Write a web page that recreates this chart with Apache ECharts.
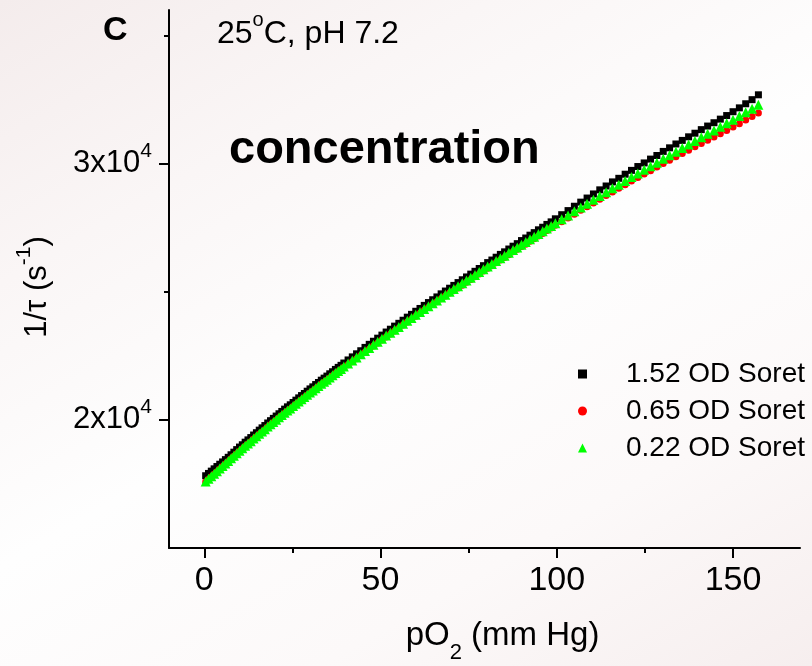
<!DOCTYPE html>
<html>
<head>
<meta charset="utf-8">
<script src="https://cdn.jsdelivr.net/npm/echarts@6/dist/echarts.min.js"></script>
<style>
html,body{margin:0;padding:0;}
body{width:812px;height:666px;overflow:hidden;background:linear-gradient(150deg,#f4ecec 0%,#faf6f6 25%,#fefefe 50%,#fcf9f9 75%,#f6eeee 100%);}
#chart{width:812px;height:666px;}
</style>
</head>
<body>
<div id="chart"></div>
<script>
// pO2 (mm Hg) – sampling is denser at low oxygen pressure
const pO2 = [0.4,1.2,2.0,2.8,3.6,4.4,5.2,6.0,6.8,7.6,8.4,9.2,10.0,10.8,11.6,12.4,13.2,14.0,14.8,15.6,
  16.4,17.2,18.0,18.8,19.6,20.4,21.2,22.0,22.8,23.6,24.4,25.2,26.0,26.8,27.6,28.4,29.2,30.0,30.8,31.6,
  32.4,33.2,34.0,34.8,35.6,36.4,37.2,38.0,38.8,39.6,
  40.8,42.0,43.2,44.4,45.6,46.8,48.0,49.2,50.4,51.6,52.8,54.0,55.2,56.4,57.6,58.8,60.0,61.2,62.4,63.6,
  64.8,66.0,67.2,68.4,69.6,70.8,72.0,73.2,74.4,75.6,76.8,78.0,79.2,80.4,81.6,82.8,84.0,85.2,86.4,87.6,
  88.8,90.0,91.2,92.4,93.6,94.8,96.0,97.2,98.4,99.6,
  101.4,103.2,105.0,106.8,108.6,110.4,112.2,114.0,115.8,117.6,119.4,121.2,123.0,124.8,126.6,128.4,
  130.2,132.0,133.8,135.6,137.4,139.2,141.0,142.8,144.6,146.4,148.2,150.0,151.8,153.6,155.4,157.2];
// 1/tau (s^-1), 1.52 OD Soret
const od152 = [17820,17910,18000,18090,18180,18270,18360,18450,18540,18640,18740,18840,18940,19030,19130,19220,19310,19410,19500,19600,
  19690,19780,19880,19970,20060,20150,20240,20330,20420,20510,20590,20680,20770,20860,20950,21030,21120,21210,21290,21380,
  21460,21550,21630,21710,21800,21880,21970,22050,22130,22220,
  22340,22460,22580,22700,22830,22950,23070,23190,23310,23430,23540,23660,23770,23890,24010,24120,24240,24350,24470,24580,
  24690,24800,24920,25030,25140,25250,25360,25470,25580,25690,25800,25910,26020,26140,26240,26350,26460,26560,26670,26780,
  26880,27000,27100,27210,27310,27420,27520,27630,27730,27850,
  28010,28170,28340,28500,28660,28820,28980,29130,29290,29430,29590,29740,29890,30030,30180,30320,
  30480,30620,30770,30910,31050,31190,31330,31470,31600,31740,31880,32030,32180,32340,32500,32690];
// 0.65 OD Soret
const od065 = [17580,17680,17780,17880,17980,18080,18180,18280,18380,18480,18580,18680,18780,18870,18970,19060,19150,19250,19340,19440,
  19530,19620,19720,19810,19900,19990,20080,20170,20260,20350,20430,20520,20610,20700,20790,20870,20960,21050,21130,21220,
  21300,21390,21470,21550,21640,21720,21810,21890,21970,22060,
  22150,22270,22390,22510,22640,22760,22880,23000,23120,23240,23350,23470,23580,23700,23820,23930,24050,24160,24280,24390,
  24500,24610,24730,24840,24950,25040,25150,25260,25370,25480,25590,25700,25810,25920,26020,26130,26240,26340,26450,26560,
  26660,26770,26860,26970,27070,27180,27280,27390,27490,27600,
  27730,27880,28030,28180,28320,28470,28610,28760,28900,29040,29180,29330,29460,29600,29730,29870,
  30010,30140,30270,30400,30530,30660,30790,30920,31040,31170,31300,31430,31560,31710,31840,31980];
// 0.22 OD Soret
const od022 = [17600,17700,17800,17900,18000,18100,18200,18300,18400,18500,18600,18700,18800,18890,18990,19080,19170,19270,19360,19460,
  19550,19640,19740,19830,19920,20010,20100,20190,20280,20370,20450,20540,20630,20720,20810,20890,20980,21070,21150,21240,
  21320,21410,21490,21570,21660,21740,21830,21910,21990,22080,
  22200,22320,22440,22560,22690,22810,22930,23050,23170,23290,23400,23520,23630,23750,23870,23980,24100,24210,24330,24440,
  24550,24660,24780,24890,25000,25110,25220,25330,25440,25550,25660,25770,25880,25990,26090,26200,26310,26410,26520,26630,
  26730,26840,26940,27050,27150,27260,27360,27470,27570,27680,
  27830,27980,28140,28290,28440,28590,28740,28890,29040,29180,29330,29480,29620,29760,29900,30040,
  30190,30330,30470,30610,30750,30890,31030,31170,31300,31440,31580,31720,31860,32010,32150,32300];

const seriesNames = ['1.52 OD Soret', '0.65 OD Soret', '0.22 OD Soret'];
const xMajorTicks = [0, 50, 100, 150];
const xMinorTicks = [25, 75, 125];
const yMajorTicks = [20000, 30000];
const yMinorTicks = [25000, 35000];

const FONT = '"Liberation Sans", Arial, Helvetica, sans-serif';
const chart = echarts.init(document.getElementById('chart'), null, {renderer: 'canvas'});

const toPts = ys => pO2.map((x, i) => [x, ys[i]]);
const lineCol = {color: '#000', width: 2};

const option = {
  backgroundColor: 'transparent',
  animation: false,
  textStyle: {fontFamily: FONT, color: '#000'},
  grid: {left: 169, right: 12, top: 10, bottom: 118, containLabel: false, outerBoundsMode: 'none'},
  xAxis: [
    {
      type: 'value', min: -10, max: 169, position: 'bottom',
      axisLine: {show: true, onZero: false, lineStyle: lineCol},
      axisTick: {show: true, customValues: xMajorTicks, length: 10, lineStyle: lineCol},
      axisLabel: {show: true, customValues: xMajorTicks, fontSize: 34, color: '#000', margin: 16, fontFamily: FONT},
      splitLine: {show: false},
      name: '{a|pO}{s|2}{a| (mm Hg)}', nameLocation: 'middle', nameGap: 60,
      nameTextStyle: {
        color: '#000', fontFamily: FONT, padding: [0, 0, 0, 36],
        rich: {
          a: {fontSize: 33, lineHeight: 56, fontFamily: FONT, color: '#000'},
          s: {fontSize: 22, lineHeight: 22, verticalAlign: 'bottom', fontFamily: FONT, color: '#000'}
        }
      }
    },
    {
      type: 'value', min: -10, max: 169, position: 'bottom',
      axisLine: {show: false, onZero: false},
      axisTick: {show: true, customValues: xMinorTicks, length: 5, lineStyle: lineCol},
      axisLabel: {show: false},
      splitLine: {show: false}
    }
  ],
  yAxis: [
    {
      type: 'value', min: 15000, max: 36000, position: 'left',
      axisLine: {show: true, onZero: false, lineStyle: lineCol},
      axisTick: {show: true, customValues: yMajorTicks, length: 10, lineStyle: lineCol},
      axisLabel: {
        show: true, customValues: yMajorTicks, margin: 17,
        formatter: v => '{a|' + (v / 10000) + 'x10}{b|4}',
        rich: {
          a: {fontSize: 31, lineHeight: 46, fontFamily: FONT, color: '#000'},
          b: {fontSize: 21, lineHeight: 21, verticalAlign: 'top', fontFamily: FONT, color: '#000'}
        }
      },
      splitLine: {show: false},
      name: '{a|1/τ (s}{b|-1}{a|)}', nameLocation: 'middle', nameGap: 109, nameRotate: 90,
      nameTextStyle: {
        color: '#000', fontFamily: FONT, padding: [0, 16, 0, 0],
        rich: {
          a: {fontSize: 31, lineHeight: 46, fontFamily: FONT, color: '#000'},
          b: {fontSize: 21, lineHeight: 21, verticalAlign: 'top', fontFamily: FONT, color: '#000'}
        }
      }
    },
    {
      type: 'value', min: 15000, max: 36000, position: 'left',
      axisLine: {show: false, onZero: false},
      axisTick: {show: true, customValues: yMinorTicks, length: 5, lineStyle: lineCol},
      axisLabel: {show: false},
      splitLine: {show: false}
    }
  ],
  legend: {
    orient: 'vertical', left: 573, top: 355, itemWidth: 9, itemHeight: 9, itemGap: 9,
    itemStyle: {opacity: 1},
    textStyle: {fontSize: 28, lineHeight: 28, color: '#000', fontFamily: FONT, padding: [0, 0, 0, 34]},
    data: [
      {name: seriesNames[0], icon: 'rect'},
      {name: seriesNames[1], icon: 'circle'},
      {name: seriesNames[2], icon: 'triangle'}
    ]
  },
  series: [
    {type: 'scatter', name: seriesNames[0], data: toPts(od152), symbol: 'rect', symbolSize: 7,
     itemStyle: {color: '#000000', opacity: 1}, z: 2},
    {type: 'scatter', name: seriesNames[1], data: toPts(od065), symbol: 'circle', symbolSize: 7,
     itemStyle: {color: '#ff0000', opacity: 1}, z: 3},
    {type: 'scatter', name: seriesNames[2], data: toPts(od022), symbol: 'triangle', symbolSize: 10,
     itemStyle: {color: '#00ff00', opacity: 1}, z: 4}
  ],
  graphic: [
    {type: 'text', x: 103, y: 31, style: {text: 'C', fontSize: 34, fontWeight: 'bold', fontFamily: FONT, fill: '#000', verticalAlign: 'middle'}},
    {type: 'text', x: 217, y: 34, style: {
      text: '{a|25}{s|o}{a|C, pH 7.2}', verticalAlign: 'middle', fill: '#000',
      rich: {
        a: {fontSize: 32, lineHeight: 48, fontFamily: FONT, fill: '#000'},
        s: {fontSize: 20, lineHeight: 20, verticalAlign: 'top', fontFamily: FONT, fill: '#000'}
      }
    }},
    {type: 'text', x: 229, y: 150, style: {text: 'concentration', fontSize: 47, fontWeight: 'bold', fontFamily: FONT, fill: '#000', verticalAlign: 'middle'}}
  ]
};
chart.setOption(option);
</script>
</body>
</html>
